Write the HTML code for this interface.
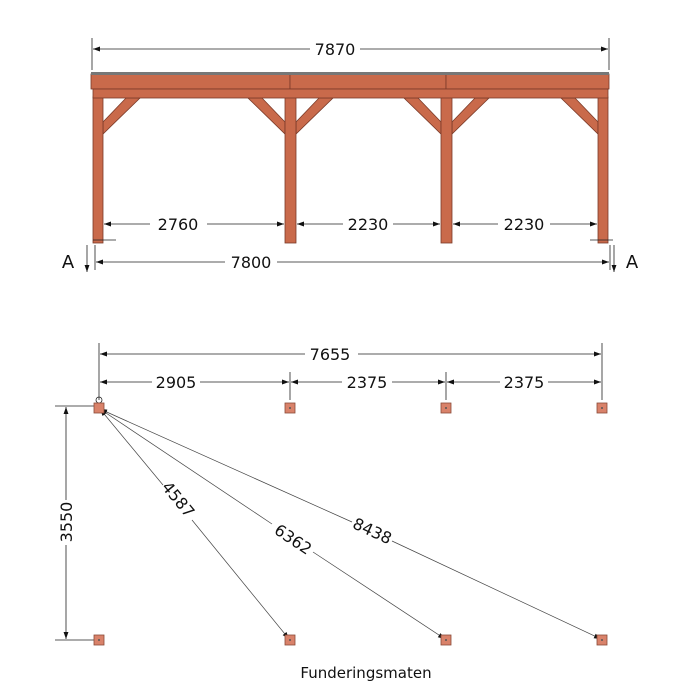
<!DOCTYPE html>
<html><head><style>body{margin:0;background:#fff}svg{display:block}text{font-family:"DejaVu Sans","Liberation Sans",sans-serif;fill:#111}</style></head><body>
<svg width="700" height="700" viewBox="0 0 700 700" xmlns="http://www.w3.org/2000/svg">
<defs>
<marker id="ar" viewBox="0 0 10 10" refX="10" refY="5" markerWidth="9" markerHeight="7" orient="auto-start-reverse" markerUnits="userSpaceOnUse"><path d="M0,1.5 L10,5 L0,8.5z" fill="#111"/></marker>
</defs>
<g stroke="#7a3a28" stroke-width="0.8" fill="#c96a4b">
<polygon points="103,122 103,134 140,98 126,98"/>
<polygon points="285,122 285,134 248,98 262,98"/>
<polygon points="296,122 296,134 333,98 319,98"/>
<polygon points="441,122 441,134 404,98 418,98"/>
<polygon points="452,122 452,134 489,98 475,98"/>
<polygon points="598,122 598,134 561,98 575,98"/>
<rect x="93" y="97" width="10" height="146"/>
<rect x="285" y="97" width="11" height="146"/>
<rect x="441" y="97" width="11" height="146"/>
<rect x="598" y="97" width="10" height="146"/>
<rect x="91" y="74" width="199" height="15"/>
<rect x="290" y="74" width="156" height="15"/>
<rect x="446" y="74" width="163" height="15"/>
<rect x="93" y="89" width="515" height="9"/>
</g>
<rect x="91" y="72" width="518" height="3" fill="#777"/>
<g stroke="#222" stroke-width="0.8" fill="none">
<line x1="92" y1="38" x2="92" y2="70"/><line x1="609" y1="38" x2="609" y2="70"/>
<line x1="93" y1="49" x2="310" y2="49" marker-start="url(#ar)"/><line x1="360" y1="49" x2="608" y2="49" marker-end="url(#ar)"/>
<line x1="104" y1="224" x2="150" y2="224" marker-start="url(#ar)"/><line x1="207" y1="224" x2="284" y2="224" marker-end="url(#ar)"/>
<line x1="297" y1="224" x2="343" y2="224" marker-start="url(#ar)"/><line x1="393" y1="224" x2="440" y2="224" marker-end="url(#ar)"/>
<line x1="453" y1="224" x2="498" y2="224" marker-start="url(#ar)"/><line x1="550" y1="224" x2="597" y2="224" marker-end="url(#ar)"/>
<line x1="93" y1="240" x2="116" y2="240"/><line x1="95" y1="245" x2="95" y2="270"/>
<line x1="590" y1="240" x2="613" y2="240"/><line x1="610" y1="245" x2="610" y2="270"/>
<line x1="96" y1="262" x2="225" y2="262" marker-start="url(#ar)"/><line x1="277" y1="262" x2="609" y2="262" marker-end="url(#ar)"/>
<line x1="87" y1="245" x2="87" y2="272" marker-end="url(#ar)"/>
<line x1="614" y1="245" x2="614" y2="272" marker-end="url(#ar)"/>
<line x1="99" y1="343" x2="99" y2="400"/><line x1="602" y1="343" x2="602" y2="400"/>
<line x1="100" y1="354" x2="305" y2="354" marker-start="url(#ar)"/><line x1="358" y1="354" x2="601" y2="354" marker-end="url(#ar)"/>
<line x1="290" y1="372" x2="290" y2="400"/><line x1="446" y1="372" x2="446" y2="400"/>
<line x1="100" y1="382" x2="152" y2="382" marker-start="url(#ar)"/><line x1="200" y1="382" x2="289" y2="382" marker-end="url(#ar)"/>
<line x1="291" y1="382" x2="342" y2="382" marker-start="url(#ar)"/><line x1="392" y1="382" x2="445" y2="382" marker-end="url(#ar)"/>
<line x1="447" y1="382" x2="500" y2="382" marker-start="url(#ar)"/><line x1="548" y1="382" x2="601" y2="382" marker-end="url(#ar)"/>
<line x1="55" y1="406" x2="94" y2="406"/><line x1="55" y1="640" x2="94" y2="640"/>
<line x1="66" y1="407" x2="66" y2="500" marker-start="url(#ar)"/><line x1="66" y1="545" x2="66" y2="639" marker-end="url(#ar)"/>
<circle cx="99" cy="400" r="3"/>
</g>
<g stroke="#444" stroke-width="0.7" fill="none">
<line x1="100" y1="409" x2="163" y2="485" marker-start="url(#ar)"/><line x1="192" y1="520" x2="289" y2="639" marker-end="url(#ar)"/>
<line x1="100" y1="409" x2="272" y2="524" marker-start="url(#ar)"/><line x1="313" y1="552" x2="445" y2="639" marker-end="url(#ar)"/>
<line x1="100" y1="409" x2="352" y2="522" marker-start="url(#ar)"/><line x1="392" y1="541" x2="601" y2="639" marker-end="url(#ar)"/>
</g>
<g fill="#d9826a" stroke="#8a4a38" stroke-width="0.8">
<rect x="94" y="403" width="10" height="10"/><rect x="285" y="403" width="10" height="10"/><rect x="441" y="403" width="10" height="10"/><rect x="597" y="403" width="10" height="10"/>
<rect x="94" y="635" width="10" height="10"/><rect x="285" y="635" width="10" height="10"/><rect x="441" y="635" width="10" height="10"/><rect x="597" y="635" width="10" height="10"/>
</g>
<g fill="#555"><circle cx="290" cy="408" r="1"/><circle cx="446" cy="408" r="1"/><circle cx="602" cy="408" r="1"/><circle cx="99" cy="640" r="1"/><circle cx="290" cy="640" r="1"/><circle cx="446" cy="640" r="1"/><circle cx="602" cy="640" r="1"/></g>
<g font-size="16" text-anchor="middle">
<text x="335" y="55">7870</text>
<text x="178" y="230">2760</text>
<text x="368" y="230">2230</text>
<text x="524" y="230">2230</text>
<text x="251" y="268">7800</text>
<text x="68" y="268" font-size="18">A</text>
<text x="632" y="268" font-size="18">A</text>
<text x="330" y="360">7655</text>
<text x="176" y="388">2905</text>
<text x="367" y="388">2375</text>
<text x="524" y="388">2375</text>
<text transform="translate(72,522) rotate(-90)">3550</text>
<text transform="translate(174,503) rotate(50.5)">4587</text>
<text transform="translate(290,544) rotate(33.8)">6362</text>
<text transform="translate(370,536) rotate(24.8)">8438</text>
<text x="366" y="678" font-size="15">Funderingsmaten</text>
</g>
</svg>
</body></html>
